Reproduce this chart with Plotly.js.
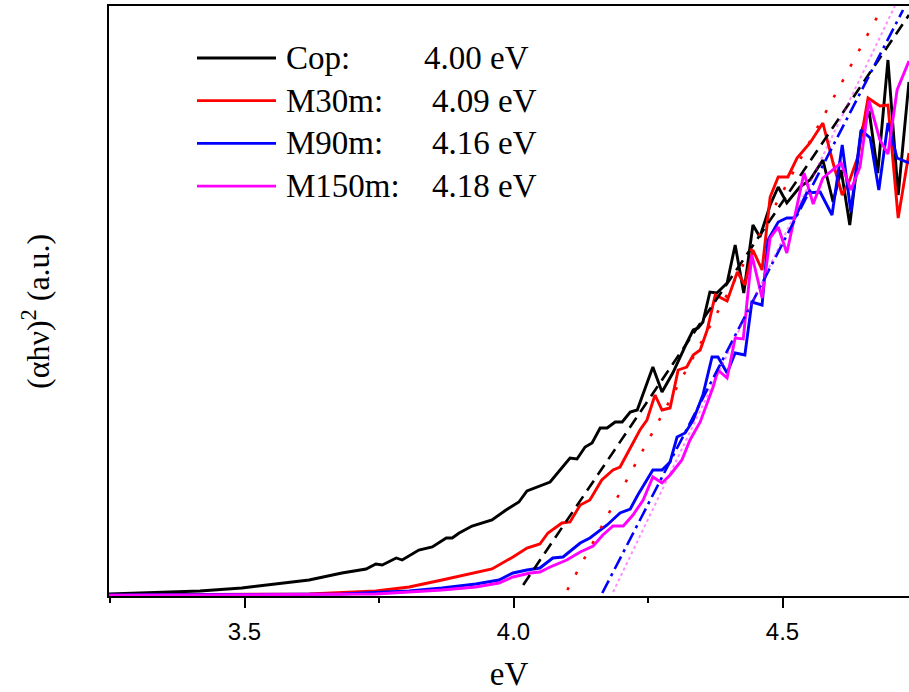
<!DOCTYPE html>
<html>
<head>
<meta charset="utf-8">
<script src="https://cdn.plot.ly/plotly-3.0.1.min.js"></script>
<style>
html,body{margin:0;padding:0;background:#fff;}
#chart{width:909px;height:692px;}
</style>
</head>
<body>
<div id="chart"></div>
<script>
// ---- data ----
const seriesNames = ['Cop:', 'M30m:', 'M90m:', 'M150m:'];
const gapLabels = ['4.00 eV', '4.09 eV', '4.16 eV', '4.18 eV'];
const seriesColors = ['#000000', '#ff0000', '#0000ff', '#ff00ff'];

const copX = [3.248,3.371,3.417,3.495,3.559,3.620,3.681,3.726,3.744,3.756,3.782,3.793,3.824,3.849,3.875,3.886,3.899,3.923,3.960,3.986,4.010,4.025,4.068,4.086,4.105,4.118,4.133,4.146,4.161,4.174,4.189,4.202,4.217,4.230,4.259,4.276,4.296,4.322,4.334,4.343,4.352,4.365,4.378,4.397,4.412,4.428,4.445,4.458,4.477,4.492,4.508,4.532,4.551,4.575,4.594,4.609,4.625,4.646,4.661,4.677,4.696,4.715,4.735];
const copY = [0.02,0.04,0.05,0.08,0.12,0.16,0.23,0.27,0.32,0.31,0.38,0.36,0.46,0.49,0.58,0.58,0.63,0.70,0.76,0.86,0.94,1.05,1.14,1.26,1.38,1.37,1.49,1.53,1.68,1.68,1.74,1.74,1.84,1.86,2.29,2.04,2.23,2.53,2.66,2.68,2.74,3.04,3.03,3.13,3.51,3.03,3.71,3.59,3.91,4.09,3.93,4.09,4.16,4.36,3.94,4.26,3.71,4.64,4.85,4.23,5.36,4.01,5.14];

const m30X = [3.248,3.620,3.744,3.806,3.867,3.930,3.960,3.999,4.025,4.049,4.064,4.090,4.105,4.124,4.142,4.164,4.185,4.198,4.217,4.235,4.248,4.263,4.276,4.291,4.306,4.322,4.334,4.347,4.360,4.375,4.397,4.416,4.430,4.445,4.462,4.477,4.492,4.510,4.527,4.551,4.575,4.594,4.611,4.625,4.640,4.659,4.681,4.696,4.715,4.735];
const m30Y = [0.01,0.02,0.05,0.09,0.16,0.23,0.27,0.39,0.48,0.52,0.63,0.73,0.74,0.91,0.96,1.16,1.26,1.29,1.48,1.66,1.76,2.01,1.86,1.88,2.26,2.29,2.41,2.46,2.66,3.01,2.95,3.24,3.11,3.46,3.26,3.99,4.19,4.19,4.38,4.53,4.73,4.33,4.01,4.16,4.39,4.98,4.90,4.91,3.78,4.43];

const m90X = [3.248,3.681,3.806,3.867,3.930,3.973,3.999,4.025,4.049,4.073,4.092,4.124,4.142,4.174,4.198,4.217,4.231,4.248,4.259,4.276,4.291,4.304,4.319,4.334,4.352,4.369,4.380,4.397,4.412,4.430,4.443,4.462,4.473,4.492,4.508,4.523,4.545,4.570,4.592,4.611,4.627,4.646,4.663,4.679,4.696,4.713,4.735];
const m90Y = [0.01,0.02,0.05,0.08,0.12,0.16,0.23,0.26,0.28,0.38,0.39,0.53,0.58,0.71,0.83,0.87,1.01,1.16,1.26,1.26,1.34,1.59,1.63,1.76,2.01,2.39,2.39,2.23,2.43,2.41,2.94,2.91,3.56,3.74,3.78,3.78,4.03,4.04,3.81,4.51,3.84,4.66,4.58,4.06,4.73,4.38,4.33];

const m150X = [3.248,3.744,3.867,3.930,3.973,3.999,4.031,4.049,4.068,4.099,4.124,4.148,4.166,4.185,4.204,4.222,4.241,4.259,4.276,4.291,4.313,4.328,4.347,4.371,4.380,4.397,4.412,4.427,4.443,4.462,4.477,4.492,4.508,4.540,4.557,4.575,4.609,4.627,4.644,4.661,4.681,4.696,4.713,4.735];
const m150Y = [0.005,0.02,0.06,0.09,0.13,0.19,0.23,0.24,0.29,0.36,0.44,0.50,0.61,0.70,0.70,0.81,0.96,1.19,1.13,1.21,1.36,1.56,1.74,2.09,2.26,2.18,2.58,2.57,3.41,2.98,3.58,3.69,3.43,4.23,3.92,4.18,4.33,4.06,4.29,4.95,4.56,4.42,5.06,5.35];

// Tauc-fit straight lines (end points)
const copFitX = [4.018, 4.735];  const copFitY = [0.11, 5.81];
const m30FitX = [4.100, 4.687];  const m30FitY = [0.06, 5.90];
const m90FitX = [4.165, 4.724];  const m90FitY = [0.03, 5.86];
const m150FitX = [4.185, 4.709]; const m150FitY = [0.04, 5.90];

const xTickVals = [3.5, 4.0, 4.5];
const xTickText = ['3.5', '4.0', '4.5'];

// ---- build traces ----
const dataX = [copX, m30X, m90X, m150X];
const dataY = [copY, m30Y, m90Y, m150Y];
const fitX = [copFitX, m30FitX, m90FitX, m150FitX];
const fitY = [copFitY, m30FitY, m90FitY, m150FitY];
const fitStyles = [
  {color: '#000000', width: 2.6, dash: '12px,7px'},
  {color: '#ff0000', width: 2.6, dash: '3px,14.5px'},
  {color: '#0000ff', width: 2.6, dash: '14px,5px,3px,5px'},
  {color: 'rgba(255,0,255,0.45)', width: 2, dash: '3px,3px'}
];

const traces = [];
for (let i = 0; i < 4; i++) {
  traces.push({
    x: dataX[i], y: dataY[i], type: 'scatter', mode: 'lines',
    name: seriesNames[i], showlegend: false,
    line: {color: seriesColors[i], width: 2.9, shape: 'linear'}
  });
}
for (let i = 0; i < 4; i++) {
  traces.push({
    x: fitX[i], y: fitY[i], type: 'scatter', mode: 'lines',
    showlegend: false, line: fitStyles[i]
  });
}

// ---- custom legend (shapes + text) ----
const shapes = [];
const annotations = [];
const legTop = 58, legStep = 42.7;   // pixel rows
const plotTop = 6, plotBottom = 596, plotLeft = 109, plotW = 800;
const pyToPaper = py => (plotBottom - py) / (plotBottom - plotTop);
const pxToPaper = px => (px - plotLeft) / plotW;
const serif = 'Liberation Serif, Times New Roman, serif';
for (let i = 0; i < 4; i++) {
  const yp = pyToPaper(legTop + legStep * i);
  shapes.push({type: 'line', xref: 'paper', yref: 'paper',
    x0: pxToPaper(197), x1: pxToPaper(276), y0: yp, y1: yp,
    line: {color: seriesColors[i], width: 2.8}});
  annotations.push({xref: 'paper', yref: 'paper', x: pxToPaper(284), y: yp,
    xanchor: 'left', yanchor: 'middle', showarrow: false, text: seriesNames[i],
    font: {family: serif, size: 33, color: '#000'}});
  annotations.push({xref: 'paper', yref: 'paper', x: pxToPaper(i === 0 ? 422 : 430), y: yp,
    xanchor: 'left', yanchor: 'middle', showarrow: false, text: gapLabels[i],
    font: {family: serif, size: 33, color: '#000'}});
}
// y-axis title
annotations.push({xref: 'paper', yref: 'paper', x: pxToPaper(36), y: pyToPaper(312),
  xanchor: 'center', yanchor: 'middle', showarrow: false, textangle: -90,
  text: '(\u03b1h\u03bd)<sup>2</sup> (a.u.)',
  font: {family: serif, size: 32, color: '#000'}});

const layout = {
  width: 909, height: 692,
  margin: {l: 109, r: 0, t: 6, b: 96, pad: 0},
  paper_bgcolor: '#fff', plot_bgcolor: '#fff',
  showlegend: false,
  xaxis: {
    range: [3.2481, 4.7351], showgrid: false, zeroline: false,
    showline: true, linecolor: '#000', linewidth: 2, mirror: true,
    ticks: 'outside', ticklen: 10, tickwidth: 2, tickcolor: '#000',
    tickvals: xTickVals, ticktext: xTickText, ticklabelstandoff: 3,
    tickfont: {family: 'Liberation Sans, Arial, sans-serif', size: 24, color: '#000'},
    minor: {dtick: 0.25, tick0: 3.25, ticks: 'outside', ticklen: 5, tickwidth: 2, tickcolor: '#000', showgrid: false},
    title: {text: 'eV', font: {family: serif, size: 33, color: '#000'}, standoff: 31}
  },
  yaxis: {
    range: [0, 5.9], showgrid: false, zeroline: false,
    showline: true, linecolor: '#000', linewidth: 2, mirror: false,
    ticks: '', showticklabels: false
  },
  shapes: shapes,
  annotations: annotations
};

Plotly.newPlot('chart', traces, layout, {staticPlot: true, displayModeBar: false});
</script>
</body>
</html>
